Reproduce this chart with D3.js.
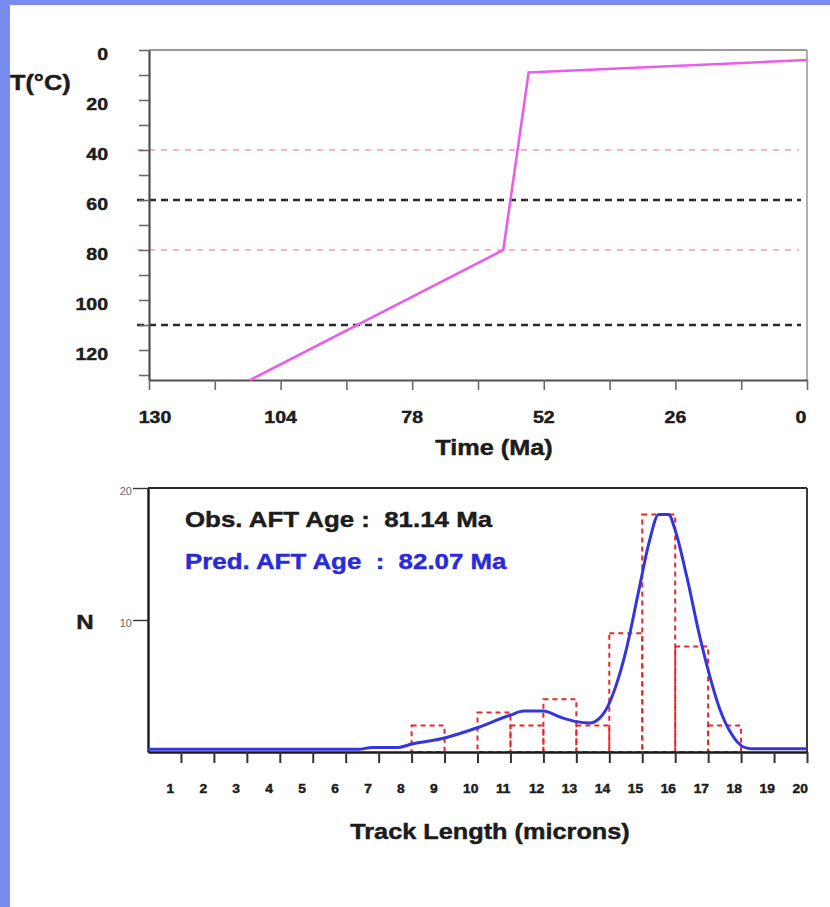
<!DOCTYPE html>
<html>
<head>
<meta charset="utf-8">
<script src="https://cdn.jsdelivr.net/npm/d3@7"></script>
<style>
  html, body { margin: 0; padding: 0; background: #7a8bef; }
  svg { display: block; }
  text { font-family: "Liberation Sans", Arial, Helvetica, sans-serif; white-space: pre; }
</style>
</head>
<body>
<script>
// ---- Thermal history (top panel) ----
const tempTicks = [0, 20, 40, 60, 80, 100, 120];
const tempMinorTicks = [0, 10, 20, 30, 40, 50, 60, 70, 80, 90, 100, 110, 120, 130];
const timeTicks = [130, 104, 78, 52, 26, 0];
const timeMinorTicks = [130, 117, 104, 91, 78, 65, 52, 39, 26, 13, 0];
const pathTime = [110, 60, 55, 0];      // Ma
const pathTemp = [132, 80, 9, 4];       // °C
const pinkLevels = [40, 80];            // °C
const blackLevels = [60, 110];          // °C

// ---- Track length distribution (bottom panel) ----
const binStart = [8, 9, 10, 11, 12, 13, 14, 15, 16, 17];
const binCount = [2, 0, 3, 2, 4, 2, 9, 18, 8, 2];
const lengthTicks = [1, 2, 3, 4, 5, 6, 7, 8, 9, 10, 11, 12, 13, 14, 15, 16, 17, 18, 19, 20];
const countTicks = [10, 20];
const predLen = [0, 6.4, 6.8, 7.6, 8.0, 8.9, 9.95, 11.0, 11.4, 12.0, 12.5, 13.0, 13.4, 13.7, 13.9, 14.2, 14.5, 14.9, 15.2, 15.5, 15.8, 16.0, 16.35, 16.75, 17.0, 17.36, 17.7, 18.06, 18.3, 20];
const predN   = [0.2, 0.2, 0.35, 0.35, 0.6, 1.0, 1.8, 2.8, 3.1, 3.1, 2.65, 2.3, 2.2, 2.55, 3.2, 5.0, 7.6, 12.3, 15.8, 18.0, 18.0, 16.8, 13.3, 8.7, 6.2, 3.2, 1.4, 0.4, 0.25, 0.25];
const obsAge = "81.14";
const predAge = "82.07";

const W = 830, H = 907;
const svg = d3.select("body").append("svg").attr("width", W).attr("height", H);

svg.append("rect").attr("width", W).attr("height", H).attr("fill", "#7a8bef");
svg.append("rect").attr("x", 10).attr("y", 5).attr("width", W - 10).attr("height", H - 5).attr("fill", "#ffffff");

// heavy, slightly widened text
function label(parent, x, y, s, o = {}) {
  const fill = o.fill || "#1c1c1c";
  return parent.append("text")
    .attr("transform", `translate(${x},${y}) scale(${o.sx ?? 1.15},1)`)
    .attr("text-anchor", o.anchor || "start")
    .attr("dy", o.middle ? "0.35em" : null)
    .attr("font-size", o.size || 17)
    .attr("font-weight", o.weight || "bold")
    .attr("fill", fill)
    .attr("stroke", o.weight === "normal" ? null : fill)
    .attr("stroke-width", o.weight === "normal" ? null : 0.45)
    .text(s);
}

// ================= Top panel =================
const xT = d3.scaleLinear().domain([130, 0]).range([149, 807]);
const yT = d3.scaleLinear().domain([0, 132]).range([50, 380]);
const gTop = svg.append("g");

// frame
gTop.append("line").attr("x1", xT(130)).attr("x2", xT(0)).attr("y1", yT(0)).attr("y2", yT(0))
  .attr("stroke", "#9a9a9a").attr("stroke-width", 2);
gTop.append("line").attr("x1", xT(0)).attr("x2", xT(0)).attr("y1", yT(0)).attr("y2", yT(132))
  .attr("stroke", "#b0b0b0").attr("stroke-width", 2);

// reference isotherms
gTop.selectAll("line.pink").data(pinkLevels).join("line").attr("class", "pink")
  .attr("x1", xT(130) - 12).attr("x2", xT(0) - 8)
  .attr("y1", d => yT(d)).attr("y2", d => yT(d))
  .attr("stroke", "#f2a0b4").attr("stroke-width", 1.6).attr("stroke-dasharray", "6,6");
gTop.selectAll("line.black").data(blackLevels).join("line").attr("class", "black")
  .attr("x1", xT(130) - 12).attr("x2", xT(0) - 6)
  .attr("y1", d => yT(d)).attr("y2", d => yT(d))
  .attr("stroke", "#2a2a2a").attr("stroke-width", 2.6).attr("stroke-dasharray", "7,5");

// axes
const yAxT = gTop.append("g").attr("transform", `translate(${xT(130)},0)`)
  .call(d3.axisLeft(yT).tickValues(tempMinorTicks).tickSize(10).tickSizeOuter(0).tickFormat(""));
const xAxT = gTop.append("g").attr("transform", `translate(0,${yT(132)})`)
  .call(d3.axisBottom(xT).tickValues(timeMinorTicks).tickSize(10).tickSizeOuter(0).tickFormat(""));
[yAxT, xAxT].forEach(a => {
  a.select(".domain").attr("stroke", "#505050").attr("stroke-width", 2.2);
  a.selectAll(".tick line").attr("stroke", "#6a6a6a").attr("stroke-width", 1.6);
});

// time-temperature path
const tPath = d3.line().x(d => xT(d[0])).y(d => yT(d[1]));
gTop.append("path").datum(pathTime.map((t, i) => [t, pathTemp[i]]))
  .attr("d", tPath).attr("fill", "none").attr("stroke", "#e95ee9").attr("stroke-width", 2.6)
  .attr("stroke-linejoin", "miter");

// labels
tempTicks.forEach(t => label(gTop, 108, yT(t) + 4, String(t), { anchor: "end", middle: true, size: 17 }));
timeTicks.forEach((t, i) => {
  const nudge = i === 0 ? 6 : (i === timeTicks.length - 1 ? -6 : 0);
  label(gTop, xT(t) + nudge, 417, String(t), { anchor: "middle", middle: true, size: 17 });
});
label(gTop, (xT(130) + xT(0)) / 2 + 16, 447, "Time (Ma)", { anchor: "middle", middle: true, size: 22 });
label(gTop, 10, 82, "T(°C)", { anchor: "start", middle: true, size: 22 });

// ================= Bottom panel =================
const xH = d3.scaleLinear().domain([0, 20]).range([148, 807]);
const yH = d3.scaleLinear().domain([0, 20]).range([752, 488]);
const gBot = svg.append("g");

// observed histogram
const bins = binStart.map((s, i) => ({ s, c: binCount[i] })).filter(d => d.c > 0);
gBot.selectAll("rect.bin").data(bins).join("rect").attr("class", "bin")
  .attr("x", d => xH(d.s)).attr("y", d => yH(d.c))
  .attr("width", d => xH(d.s + 1) - xH(d.s)).attr("height", d => yH(0) - yH(d.c))
  .attr("fill", "none").attr("stroke", "#e3292b").attr("stroke-width", 2)
  .attr("stroke-dasharray", "5,4");

gBot.append("line").attr("x1", xH(0)).attr("x2", xH(20)).attr("y1", yH(20)).attr("y2", yH(20))
  .attr("stroke", "#2a2a2a").attr("stroke-width", 2);
gBot.append("line").attr("x1", xH(20)).attr("x2", xH(20)).attr("y1", yH(20)).attr("y2", yH(0))
  .attr("stroke", "#3a3a3a").attr("stroke-width", 2);

const yAxH = gBot.append("g").attr("transform", `translate(${xH(0)},0)`)
  .call(d3.axisLeft(yH).tickValues(countTicks).tickSize(15).tickSizeOuter(0).tickFormat(""));
const xAxH = gBot.append("g").attr("transform", `translate(0,${yH(0)})`)
  .call(d3.axisBottom(xH).tickValues(lengthTicks).tickSize(11).tickSizeOuter(0).tickFormat(""));
yAxH.select(".domain").attr("stroke", "#1a1a1a").attr("stroke-width", 2.4);
xAxH.select(".domain").attr("stroke", "#1a1a1a").attr("stroke-width", 2.6);
yAxH.selectAll(".tick line").attr("stroke", "#333").attr("stroke-width", 1.4);
xAxH.selectAll(".tick line").attr("stroke", "#333").attr("stroke-width", 2);

// predicted distribution
const pLine = d3.line().x(d => xH(d[0])).y(d => yH(d[1])).curve(d3.curveMonotoneX);
gBot.append("path").datum(predLen.map((l, i) => [l, predN[i]]))
  .attr("d", pLine).attr("fill", "none").attr("stroke", "#3535dc").attr("stroke-width", 3);

// labels
lengthTicks.forEach(k => label(gBot, xH(k) - 14.5, 789, String(k), { middle: true, size: 12 }));
countTicks.forEach(c => label(gBot, 132, yH(c) + 3, String(c), { anchor: "end", middle: true, size: 11, weight: "normal", fill: "#666", sx: 1 }));
label(gBot, 85, 622, "N", { anchor: "middle", middle: true, size: 21 });
label(gBot, 490, 831, "Track Length (microns)", { anchor: "middle", middle: true, size: 22 });
label(gBot, 185, 527, `Obs. AFT Age :  ${obsAge} Ma`, { size: 22.5, fill: "#1c1c1c" });
label(gBot, 185, 569, `Pred. AFT Age  :  ${predAge} Ma`, { size: 22.5, fill: "#2b2bd6" });
</script>
</body>
</html>
